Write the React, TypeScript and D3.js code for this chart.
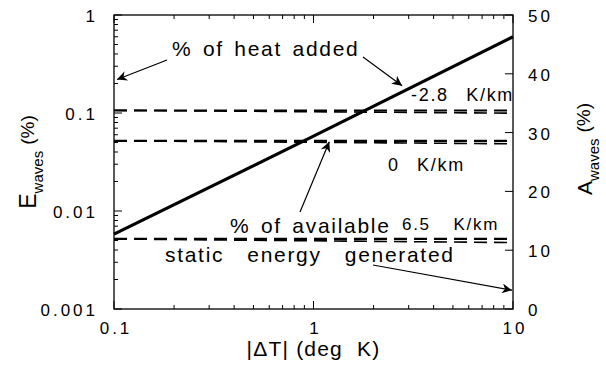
import { useEffect, useRef } from "react";
import * as d3 from "d3";

// solid curve: wave energy as % of heat added
const heatX = [0.1, 1, 10];
const heatE = [0.0058, 0.058, 0.6];

// dashed curves: % of available static energy generated, per lapse rate
const lapseLabels = ["-2.8  K/km", "0  K/km", "6.5  K/km"];
const lapseE = [0.106, 0.052, 0.0052];
const lapseAStart = [33.8, 28.6, 11.9];
const lapseAEnd = [33.3, 28.1, 11.3];

const xTickValues = [0.1, 1, 10];
const xTickLabels = ["0.1", "1", "10"];
const yTickValues = [1, 0.1, 0.01, 0.001];
const yTickLabels = ["1", "0.1", "0.01", "0.001"];
const aTickValues = [0, 10, 20, 30, 40, 50];

const App = () => {
  const ref = useRef<SVGSVGElement>(null);

  const W = 606,
    H = 371;
  const margin = { top: 15, right: 93, bottom: 62, left: 114 };
  const width = W - margin.left - margin.right,
    height = H - margin.top - margin.bottom;

  useEffect(() => {
    const root = d3.select(ref.current);
    root.selectAll("*").remove();
    const font = "'Liberation Sans', Arial, sans-serif";

    const defs = root.append("defs");
    defs
      .append("marker")
      .attr("id", "arr")
      .attr("viewBox", "0 0 10 10")
      .attr("refX", 10)
      .attr("refY", 5)
      .attr("markerWidth", 15)
      .attr("markerHeight", 10)
      .attr("markerUnits", "userSpaceOnUse")
      .attr("orient", "auto")
      .append("path")
      .attr("d", "M0,0 L10,5 L0,10 L3,5 Z")
      .attr("fill", "#000");

    const g = root
      .append("g")
      .attr("transform", "translate(" + margin.left + "," + margin.top + ")");

    const x = d3.scaleLog().domain([0.1, 10]).range([0, width]);
    const y = d3.scaleLog().domain([0.001, 1]).range([height, 0]);
    const yA = d3.scaleLinear().domain([0, 50]).range([height, 0]);

    // frame
    g.append("rect")
      .attr("width", width)
      .attr("height", height)
      .attr("fill", "none")
      .attr("stroke", "#000")
      .attr("stroke-width", 1.3);

    // log minor ticks (inward)
    x.ticks().forEach((v) => {
      const major = xTickValues.some((t) => Math.abs(t - v) < 1e-9);
      const len = major ? 8 : 4;
      g.append("line").attr("x1", x(v)).attr("x2", x(v)).attr("y1", height).attr("y2", height - len).attr("stroke", "#000");
      g.append("line").attr("x1", x(v)).attr("x2", x(v)).attr("y1", 0).attr("y2", len).attr("stroke", "#000");
    });
    y.ticks().forEach((v) => {
      const major = yTickValues.some((t) => Math.abs(t - v) < 1e-9);
      const len = major ? 8 : 4;
      g.append("line").attr("x1", 0).attr("x2", len).attr("y1", y(v)).attr("y2", y(v)).attr("stroke", "#000");
    });
    aTickValues.forEach((v) => {
      g.append("line").attr("x1", width).attr("x2", width - 8).attr("y1", yA(v)).attr("y2", yA(v)).attr("stroke", "#000");
    });

    // tick labels
    const tickStyle = (s: any) =>
      s.attr("font-family", font).attr("font-size", 17).attr("letter-spacing", 3).attr("fill", "#000");

    yTickValues.forEach((v, i) => {
      g.append("text")
        .call(tickStyle)
        .attr("x", -16)
        .attr("y", y(v) + 7)
        .attr("text-anchor", "end")
        .text(yTickLabels[i]);
    });
    aTickValues.forEach((v) => {
      g.append("text")
        .call(tickStyle)
        .attr("x", width + 15)
        .attr("y", yA(v) + 7)
        .attr("text-anchor", "start")
        .text(String(v));
    });
    xTickValues.forEach((v, i) => {
      g.append("text")
        .call(tickStyle)
        .attr("x", x(v) + 2)
        .attr("y", height + 25)
        .attr("text-anchor", "middle")
        .text(xTickLabels[i]);
    });

    // axis titles
    g.append("text")
      .attr("font-family", font)
      .attr("font-size", 21)
      .attr("letter-spacing", 1.2)
      .style("white-space", "pre")
      .attr("x", width / 2)
      .attr("y", height + 47)
      .attr("text-anchor", "middle")
      .text("|ΔT| (deg  K)");

    const yTitle = (cx: number, cy: number, letter: string, big: number) => {
      const t = root
        .append("text")
        .attr("font-family", font)
        .attr("font-size", big)
        .attr("text-anchor", "middle")
        .attr("transform", "translate(" + cx + "," + cy + ") rotate(-90)");
      t.append("tspan").text(letter);
      t.append("tspan").attr("font-size", 15).attr("dy", 7).text("waves");
      t.append("tspan").attr("font-size", 19).attr("dy", -9).attr("dx", 6).text("(%)");
    };
    yTitle(36, 162, "E", 23);
    yTitle(592, 149, "A", 21);

    // solid line
    const line = d3
      .line<number>()
      .x((_, i) => x(heatX[i]))
      .y((d) => y(d));
    g.append("path")
      .datum(heatE)
      .attr("d", line)
      .attr("fill", "none")
      .attr("stroke", "#000")
      .attr("stroke-width", 3.2);

    // dashed lines (E on left axis, A on right axis)
    lapseE.forEach((v, i) => {
      g.append("line")
        .attr("x1", x(0.1))
        .attr("x2", x(10))
        .attr("y1", y(v))
        .attr("y2", y(v))
        .attr("stroke", "#000")
        .attr("stroke-width", 2.2)
        .attr("stroke-dasharray", "13,7");
      g.append("line")
        .attr("x1", x(0.1))
        .attr("x2", x(10))
        .attr("y1", yA(lapseAStart[i]))
        .attr("y2", yA(lapseAEnd[i]))
        .attr("stroke", "#000")
        .attr("stroke-width", 1.6)
        .attr("stroke-dasharray", "13,7");
    });

    // annotations
    const label = (tx: number, ty: number, s: string, size = 21, ws = 3) =>
      root
        .append("text")
        .attr("font-family", font)
        .attr("font-size", size)
        .attr("letter-spacing", 1.7)
        .attr("word-spacing", ws)
        .style("white-space", "pre")
        .attr("x", tx)
        .attr("y", ty)
        .text(s);
    const arrow = (x1: number, y1: number, x2: number, y2: number) =>
      root
        .append("line")
        .attr("x1", x1)
        .attr("y1", y1)
        .attr("x2", x2)
        .attr("y2", y2)
        .attr("stroke", "#000")
        .attr("stroke-width", 1.2)
        .attr("marker-end", "url(#arr)");

    label(172, 56, "% of heat added");
    arrow(167, 60, margin.left + 3, margin.top + y(0.22));
    arrow(363, 57, margin.left + x(2.78), margin.top + y(0.19));

    label(411, 101, lapseLabels[0], 18, 2);
    label(388, 171, lapseLabels[1], 18, 2);
    label(402, 230, lapseLabels[2], 17, 5);

    label(230, 233, "% of available");
    arrow(300, 212, margin.left + x(1.2), margin.top + y(lapseE[1]) + 1);
    label(165, 262, "static  energy  generated", 21, 4);
    arrow(373, 265, margin.left + width - 1, margin.top + yA(3.2));
  }, []);

  return (
    <div style={{ position: "absolute", left: 0, top: 0 }}>
      <svg ref={ref} width={W} height={H} style={{ display: "block", background: "#fff" }} />
    </div>
  );
};

export default App;
